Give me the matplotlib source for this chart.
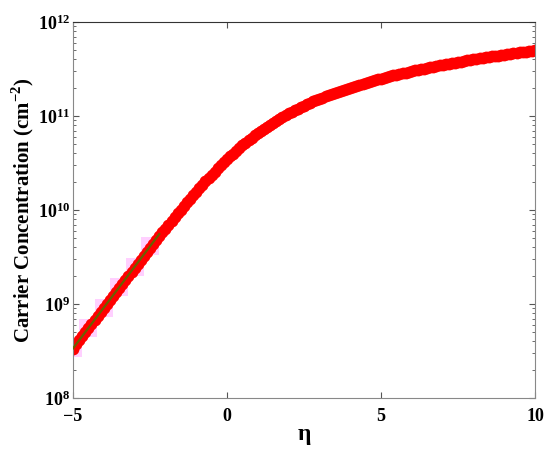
import numpy as np
import matplotlib
matplotlib.use('Agg')
import matplotlib.pyplot as plt
from matplotlib.ticker import FuncFormatter, LogLocator, NullFormatter

plt.rcParams['font.family'] = 'Liberation Serif'
plt.rcParams['font.weight'] = 'bold'
plt.rcParams['mathtext.fontset'] = 'custom'
plt.rcParams['mathtext.rm'] = 'Liberation Serif'
plt.rcParams['mathtext.bf'] = 'Liberation Serif:bold'

# reduced Fermi level, step 0.1 from -5 to 10
eta = np.round(np.arange(-50, 101) / 10.0, 1)

# carrier concentration in units of 1e10 cm^-2
n_1e10 = [
    0.03358, 0.03710, 0.04098, 0.04527, 0.05001, 0.05524, 0.06101, 0.06739, 0.07443, 0.08219,
    0.09075, 0.1002, 0.1106, 0.1221, 0.1348, 0.1488, 0.1641, 0.1811, 0.1998, 0.2203,
    0.2429, 0.2678, 0.2951, 0.3252, 0.3583, 0.3944, 0.4342, 0.4777, 0.5254, 0.5776,
    0.6346, 0.6969, 0.7649, 0.8389, 0.9195, 1.0071, 1.1021, 1.2050, 1.3164, 1.4367,
    1.5663, 1.7058, 1.8555, 2.0159, 2.1874, 2.3704, 2.5651, 2.7718, 2.9907, 3.2220,
    3.4657, 3.7220, 3.9907, 4.2718, 4.5651, 4.8704, 5.1874, 5.5159, 5.8555, 6.2058,
    6.5663, 6.9367, 7.3164, 7.7050, 8.1021, 8.5071, 8.9195, 9.3389, 9.7649, 10.197,
    10.635, 11.078, 11.525, 11.978, 12.434, 12.894, 13.358, 13.825, 14.295, 14.768,
    15.243, 15.720, 16.200, 16.681, 17.164, 17.649, 18.135, 18.622, 19.111, 19.600,
    20.091, 20.582, 21.074, 21.567, 22.061, 22.555, 23.050, 23.545, 24.041, 24.537,
    25.034, 25.530, 26.028, 26.525, 27.023, 27.520, 28.018, 28.517, 29.015, 29.514,
    30.012, 30.511, 31.010, 31.509, 32.008, 32.508, 33.007, 33.506, 34.006, 34.505,
    35.005, 35.504, 36.004, 36.503, 37.003, 37.503, 38.003, 38.502, 39.002, 39.502,
    40.002, 40.502, 41.001, 41.501, 42.001, 42.501, 43.001, 43.501, 44.001, 44.501,
    45.001, 45.501, 46.000, 46.500, 47.000, 47.500, 48.000, 48.500, 49.000, 49.500,
    50.000,
]

# non-degenerate (Boltzmann) limit
eta_b = [-5.0, -4.5, -4.0, -3.5, -3.0, -2.5, -2.2]
n_b_1e10 = [0.03369, 0.05554, 0.09158, 0.15099, 0.24894, 0.41042, 0.55400]

n = np.array(n_1e10) * 1e10
n_b = np.array(n_b_1e10) * 1e10

fig = plt.figure(figsize=(5.5, 4.51), dpi=100)
ax = fig.add_axes([0.1327, 0.1175, 0.84, 0.8337])

ax.plot(eta_b[:-1], n_b[:-1], 's', color='#ffd0ff', markersize=13, markeredgewidth=0, zorder=1)
ax.plot(eta, n, 'o', color='red', markersize=8.5, markeredgewidth=0, zorder=2)
ax.plot(eta_b, n_b, '-', color='#6b6000', linewidth=1.6, zorder=3)

ax.set_yscale('log')
ax.set_xlim(-5, 10)
ax.set_ylim(1e8, 1e12)
ax.set_xticks([-5, 0, 5, 10])
ax.yaxis.set_major_locator(LogLocator(base=10, numticks=10))
ax.yaxis.set_minor_locator(LogLocator(base=10, subs=np.arange(2, 10), numticks=10))
ax.yaxis.set_minor_formatter(NullFormatter())
ax.yaxis.set_major_formatter(FuncFormatter(lambda v, p: r'$\mathbf{10^{%d}}$' % round(np.log10(v))))

ax.tick_params(direction='in', top=True, right=True, labelsize=13, color='#555555')
ax.tick_params(axis='y', pad=2)
ax.tick_params(axis='x', pad=7)
ax.tick_params(which='minor', direction='in', right=True, color='#555555', length=2)
ax.tick_params(which='major', length=4)
for lab in ax.get_xticklabels():
    lab.set_fontweight('bold')
for s in ax.spines.values():
    s.set_color('#888888')
ax.spines['top'].set_color('#333333')

ax.set_xlabel(r'$\mathbf{\eta}$', fontsize=17, labelpad=1)
ax.set_ylabel(r'Carrier Concentration (cm$^{\mathbf{-2}}$)', fontsize=15, fontweight='bold', labelpad=1)

fig.savefig('out.png', dpi=100)
